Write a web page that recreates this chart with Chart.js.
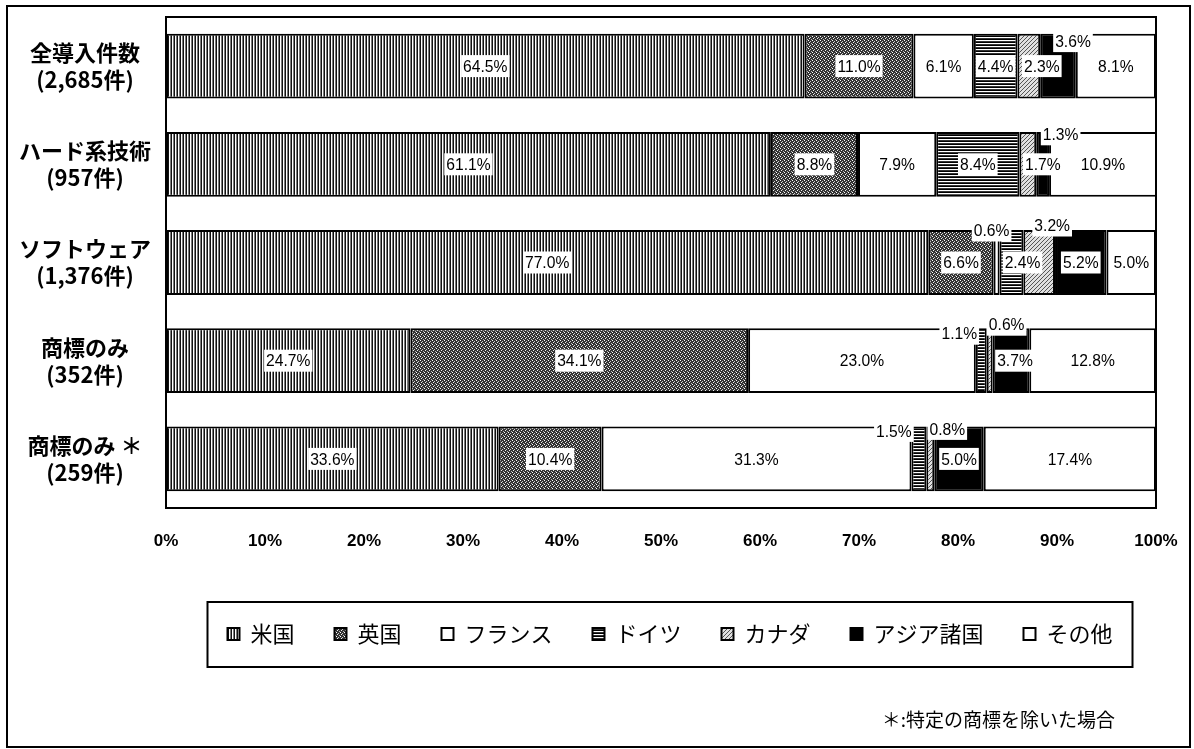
<!DOCTYPE html>
<html>
<head>
<meta charset="utf-8">
<script src="https://cdn.jsdelivr.net/npm/chart.js@4.4.1/dist/chart.umd.min.js"></script>
<style>
html,body{margin:0;padding:0;background:#fff;}
#wrap{position:relative;width:1194px;height:749px;}
canvas{display:block;}
</style>
</head>
<body>
<div id="wrap"><canvas id="c" width="1194" height="749"></canvas></div>
<script>
// ---- data ----
const categories = [
  ['全導入件数', '(2,685件)'],
  ['ハード系技術', '(957件)'],
  ['ソフトウェア', '(1,376件)'],
  ['商標のみ', '(352件)'],
  ['商標のみ ＊', '(259件)']
];
const seriesNames = ['米国', '英国', 'フランス', 'ドイツ', 'カナダ', 'アジア諸国', 'その他'];
const usa     = [64.5, 61.1, 77.0, 24.7, 33.6];
const uk      = [11.0,  8.8,  6.6, 34.1, 10.4];
const france  = [ 6.1,  7.9,  0.6, 23.0, 31.3];
const germany = [ 4.4,  8.4,  2.4,  1.1,  1.5];
const canada  = [ 2.3,  1.7,  3.2,  0.6,  0.8];
const asia    = [ 3.6,  1.3,  5.2,  3.7,  5.0];
const others  = [ 8.1, 10.9,  5.0, 12.8, 17.4];
const xTickValues = [0, 10, 20, 30, 40, 50, 60, 70, 80, 90, 100];
const footnote = '＊:特定の商標を除いた場合';

// ---- styles ----
const canvas = document.getElementById('c');
const mainCtx = canvas.getContext('2d');
function makePattern(w, h, draw) {
  const c = document.createElement('canvas');
  c.width = w; c.height = h;
  const g = c.getContext('2d');
  draw(g);
  return mainCtx.createPattern(c, 'repeat');
}
function px(g, x, y, col) { g.fillStyle = col; g.fillRect(x, y, 1, 1); }
const patUSA = makePattern(3, 1, g => { px(g,0,0,'#111'); px(g,1,0,'#fff'); px(g,2,0,'#7a7a7a'); });
const patUK = makePattern(4, 4, g => {
  g.fillStyle = '#333'; g.fillRect(0,0,4,4);
  px(g,0,0,'#fff'); px(g,2,1,'#ccc'); px(g,1,2,'#eee'); px(g,3,3,'#bbb');
});
const patDE = makePattern(1, 3, g => { px(g,0,0,'#000'); px(g,0,1,'#fff'); px(g,0,2,'#333'); });
const patCA = makePattern(4, 4, g => {
  g.fillStyle = '#e0e0e0'; g.fillRect(0,0,4,4);
  for (let i = 0; i < 4; i++) px(g, i, 3 - i, '#555');
});
const fills = [patUSA, patUK, '#ffffff', patDE, patCA, '#000000', '#ffffff'];
const seriesData = [usa, uk, france, germany, canada, asia, others];

// label offsets for small segments (dataset,row) -> [dx, dy] in px
const labelShift = {
  '4,0': [13, 0], '5,0': [15, -25],
  '4,1': [15, 0], '5,1': [18, -30],
  '2,2': [-5, -32], '3,2': [11, 0], '4,2': [13, -37],
  '3,3': [-22, -27], '4,3': [17, -36], '5,3': [4, 0],
  '3,4': [-25, -28], '4,4': [17, -30]
};

const labelPlugin = {
  id: 'segLabels',
  afterDatasetsDraw(chart) {
    const ctx = chart.ctx;
    ctx.save();
    ctx.font = '17px "Liberation Sans", Arial, sans-serif';
    ctx.textAlign = 'center';
    ctx.textBaseline = 'middle';
    const sx = 0.92;
    chart.data.datasets.forEach((ds, di) => {
      const meta = chart.getDatasetMeta(di);
      meta.data.forEach((el, i) => {
        const v = ds.data[i];
        const sh = labelShift[di + ',' + i] || [0, 0];
        const x = (el.x + el.base) / 2 + sh[0];
        const y = el.y + sh[1];
        const t = v.toFixed(1) + '%';
        const w = ctx.measureText(t).width * sx;
        ctx.fillStyle = '#fff';
        ctx.fillRect(x - w / 2 - 2, y - 11, w + 4, 22);
        ctx.save();
        ctx.translate(x, y + 1);
        ctx.scale(sx, 1);
        ctx.fillStyle = '#000';
        ctx.fillText(t, 0, 0);
        ctx.restore();
      });
    });
    ctx.restore();
  }
};

const framePlugin = {
  id: 'frames',
  afterLayout(chart) {
    const lg = chart.legend;
    if (lg) { lg.left += 9; lg.right += 9; }
  },
  afterDraw(chart) {
    const ctx = chart.ctx;
    const a = chart.chartArea;
    ctx.save();
    ctx.strokeStyle = '#000';
    ctx.lineWidth = 2;
    ctx.strokeRect(a.left, a.top, a.right - a.left, a.bottom - a.top);
    // legend frame
    const hb = chart.legend.legendHitBoxes;
    if (hb && hb.length) {
      const l = hb[0].left - 20;
      const last = hb[hb.length - 1];
      const r = last.left + last.width + 20;
      const cy = hb[0].top + hb[0].height / 2;
      ctx.strokeRect(l, cy - 32, r - l, 65);
    }
    // outer frame
    ctx.strokeRect(7, 6, chart.width - 11, chart.height - 8);
    // footnote
    ctx.fillStyle = '#000';
    ctx.font = '19px "Noto Sans CJK JP", sans-serif';
    ctx.textAlign = 'right';
    ctx.textBaseline = 'middle';
    ctx.fillText(footnote, a.right - 41, 720);
    ctx.restore();
  }
};

new Chart(canvas, {
  type: 'bar',
  data: {
    labels: categories,
    datasets: seriesNames.map((n, k) => ({
      label: n,
      data: seriesData[k],
      backgroundColor: fills[k],
      borderColor: '#000',
      borderWidth: 2,
      borderSkipped: false,
      categoryPercentage: 1,
      barPercentage: 0.66
    }))
  },
  options: {
    indexAxis: 'y',
    responsive: false,
    animation: false,
    devicePixelRatio: 1,
    layout: { padding: { left: 0, right: 38, top: 17, bottom: 94 } },
    scales: {
      x: {
        stacked: true, min: 0, max: 100,
        grid: { display: false, drawTicks: false },
        border: { display: false },
        afterBuildTicks: s => { s.ticks = xTickValues.map(v => ({ value: v })); },
        afterFit: s => { s.height = 75; s.paddingLeft = 0; s.paddingRight = 0; },
        ticks: {
          padding: 23, autoSkip: false, maxRotation: 0, color: '#000',
          font: { family: '"Liberation Sans", Arial, sans-serif', size: 17, weight: 'bold' },
          callback: v => v + '%'
        }
      },
      y: {
        stacked: true,
        grid: { display: false, drawTicks: false },
        border: { display: false },
        afterFit: s => { s.width = 166; s.paddingTop = 0; s.paddingBottom = 0; },
        ticks: {
          crossAlign: 'center', padding: 15, color: '#000',
          font: { family: '"Noto Sans CJK JP", sans-serif', size: 22, weight: 'bold', lineHeight: 1.23 }
        }
      }
    },
    plugins: {
      legend: {
        position: 'bottom',
        fullSize: false,
        labels: {
          boxWidth: 12, boxHeight: 12, padding: 40, color: '#000',
          font: { family: '"Noto Sans CJK JP", sans-serif', size: 22 }
        }
      },
      title: { display: false },
      tooltip: { enabled: false }
    }
  },
  plugins: [labelPlugin, framePlugin]
});
</script>
</body>
</html>
